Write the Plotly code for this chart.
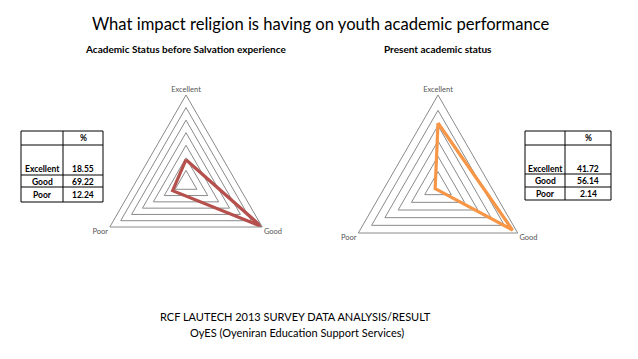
import plotly.graph_objects as go

W, H = 638, 359

# ---- data ----
categories = ["Excellent", "Good", "Poor"]
before_values = [18.55, 69.22, 12.24]
present_values = [41.72, 56.14, 2.14]
before_labels = ["18.55", "69.22", "12.24"]
present_labels = ["41.72", "56.14", "2.14"]

title_text = "What impact religion is having on youth academic performance"
sub_left = "Academic Status before Salvation experience"
sub_right = "Present academic status"
footer1 = "RCF LAUTECH 2013 SURVEY DATA ANALYSIS/RESULT"
footer2 = "OyES (Oyeniran Education Support Services)"

FONT = "Lato"


def px(x):
    return x / W


def py(y):
    return 1 - y / H


def closed(v):
    return list(v) + [v[0]]


fig = go.Figure()
fig.add_trace(go.Scatterpolar(r=closed(before_values), theta=closed(categories),
                              mode="lines", line=dict(color="#B5504D", width=3.2),
                              subplot="polar", showlegend=False, hoverinfo="skip"))
fig.add_trace(go.Scatterpolar(r=closed(present_values), theta=closed(categories),
                              mode="lines", line=dict(color="#F79646", width=3.2),
                              subplot="polar2", showlegend=False, hoverinfo="skip"))


def polar_layout(cx, cy, r, rmax):
    return dict(
        domain=dict(x=[px(cx - r), px(cx + r)], y=[py(cy + r), py(cy - r)]),
        gridshape="linear",
        bgcolor="white",
        radialaxis=dict(range=[0, rmax], dtick=10, showticklabels=False, ticks="",
                        showline=False, gridcolor="#8a8a8a", gridwidth=1),
        angularaxis=dict(rotation=90, direction="clockwise", showgrid=False,
                         showline=True, linecolor="#8a8a8a", linewidth=1, ticks="",
                         tickfont=dict(family=FONT, size=7.5, color="#555555")),
    )


fig.update_layout(
    width=W, height=H,
    margin=dict(l=0, r=0, t=0, b=0),
    paper_bgcolor="white", plot_bgcolor="white",
    polar=polar_layout(186, 183, 88, 70),
    polar2=polar_layout(438, 187, 92, 60),
)

ann = []
shapes = []


def text(t, x, y, size, bold=False):
    ann.append(dict(text=("<b>" + t + "</b>") if bold else t, x=px(x), y=py(y),
                    xref="paper", yref="paper", xanchor="center", yanchor="middle",
                    showarrow=False, font=dict(family=FONT, size=size, color="black")))


text(title_text, 321, 24, 16.6)
text(sub_left, 185.5, 49, 10, bold=True)
text(sub_right, 437.5, 49, 10, bold=True)
text(footer1, 295.5, 316, 11)
text(footer2, 297, 332, 11)


def table(xs, ys, text_ys, values):
    for x in xs:
        shapes.append(dict(type="line", xref="paper", yref="paper",
                           x0=px(x), x1=px(x), y0=py(ys[0]), y1=py(ys[-1]),
                           line=dict(color="black", width=1)))
    for y in ys:
        shapes.append(dict(type="line", xref="paper", yref="paper",
                           x0=px(xs[0]), x1=px(xs[-1]), y0=py(y), y1=py(y),
                           line=dict(color="black", width=1)))
    c1 = (xs[0] + xs[1]) / 2
    c2 = (xs[1] + xs[2]) / 2
    text("%", c2, (ys[0] + ys[1]) / 2, 8.5, bold=True)
    for cat, val, ty in zip(categories, values, text_ys):
        text(cat, c1, ty, 8.5, bold=True)
        text(val, c2, ty, 8.5, bold=True)


table([21, 63, 103], [131, 145, 175, 187, 202], [169, 181.5, 195], before_labels)
table([525, 565, 611], [131, 145, 174, 187, 200], [169, 181, 194], present_labels)

fig.update_layout(annotations=ann, shapes=shapes)
fig.write_html("out.html", config={"displayModeBar": False},
               post_script="document.body.style.margin='0';")
